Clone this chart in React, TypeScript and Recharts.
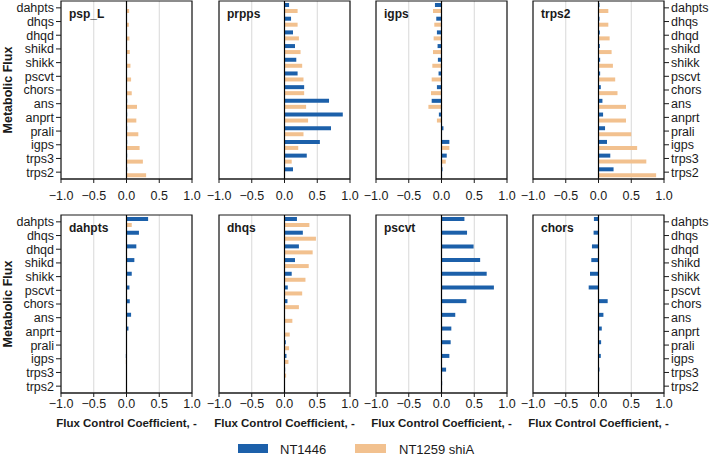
import React from 'react';
import { BarChart, Bar, XAxis, YAxis, CartesianGrid, ReferenceLine, ReferenceArea } from 'recharts';

const categories = ['dahpts', 'dhqs', 'dhqd', 'shikd', 'shikk', 'pscvt', 'chors', 'ans', 'anprt', 'prali', 'igps', 'trps3', 'trps2'];
const xTicks = [-1, -0.5, 0, 0.5, 1];
const seriesNames = ['NT1446', 'NT1259 shiA'];
const panelTitles = ['psp_L', 'prpps', 'igps', 'trps2', 'dahpts', 'dhqs', 'pscvt', 'chors'];

// NT1446 (blue)
const nt1446_psp_L = [0, 0, 0, 0, 0, 0, 0, 0.01, 0.01, 0.01, 0.01, 0.01, 0.01];
const nt1446_prpps = [0.07, 0.10, 0.13, 0.16, 0.18, 0.20, 0.30, 0.68, 0.89, 0.71, 0.54, 0.34, 0.13];
const nt1446_igps = [-0.10, -0.08, -0.07, -0.06, -0.055, -0.045, -0.07, -0.15, -0.04, 0.03, 0.12, 0.08, 0.015];
const nt1446_trps2 = [0.015, 0.015, 0.02, 0.02, 0.025, 0.025, 0.035, 0.06, 0.07, 0.10, 0.13, 0.18, 0.23];
const nt1446_dahpts = [0.33, 0.19, 0.15, 0.12, 0.08, 0.045, 0.05, 0.07, 0.03, 0, -0.01, 0, 0];
const nt1446_dhqs = [0.19, 0.28, 0.22, 0.16, 0.11, 0.05, 0.045, 0, 0, 0.02, 0.03, 0.01, 0];
const nt1446_pscvt = [0.35, 0.39, 0.49, 0.59, 0.69, 0.80, 0.38, 0.21, 0.15, 0.14, 0.12, 0.07, 0.01];
const nt1446_chors = [-0.07, -0.075, -0.10, -0.11, -0.13, -0.15, 0.14, 0.075, 0.05, 0.04, 0.035, 0.015, 0];

// NT1259 shiA (orange)
const shiA_psp_L = [0.04, 0.035, 0.045, 0.05, 0.06, 0.07, 0.08, 0.16, 0.15, 0.18, 0.20, 0.25, 0.30];
const shiA_prpps = [0.20, 0.20, 0.22, 0.245, 0.27, 0.29, 0.30, 0.33, 0.36, 0.29, 0.21, 0.11, 0];
const shiA_igps = [-0.13, -0.11, -0.12, -0.13, -0.14, -0.15, -0.16, -0.20, -0.07, 0, 0.12, 0.065, 0];
const shiA_trps2 = [0.15, 0.15, 0.17, 0.20, 0.22, 0.255, 0.29, 0.42, 0.42, 0.50, 0.59, 0.73, 0.88];
const shiA_dahpts = [0.08, 0, 0, 0, 0, 0, 0, 0, 0, 0, -0.01, 0, 0];
const shiA_dhqs = [0.38, 0.48, 0.43, 0.37, 0.32, 0.27, 0.22, 0.12, 0.08, 0.07, 0.06, 0.025, 0];
const shiA_pscvt = [0, 0, 0, 0, 0, 0, 0, 0, 0, 0, 0, 0, 0];
const shiA_chors = [0, 0, 0, 0, 0, 0, 0, 0, 0, 0, 0, 0, 0];

const blueSeries = [nt1446_psp_L, nt1446_prpps, nt1446_igps, nt1446_trps2, nt1446_dahpts, nt1446_dhqs, nt1446_pscvt, nt1446_chors];
const orangeSeries = [shiA_psp_L, shiA_prpps, shiA_igps, shiA_trps2, shiA_dahpts, shiA_dhqs, shiA_pscvt, shiA_chors];

const BLUE = '#1c60aa';
const ORANGE = '#f2c18f';
const INK = '#1a1a1a';
const FONT = "'Liberation Sans', Arial, sans-serif";

const PLOT_W = 131;
const PLOT_H = 178;
const SIDE = 16;
const colPlotLeft = [61, 218.5, 376, 533];
const RIGHT_AXIS_W = 45;

function Panel({ idx }: { idx: number }) {
  const row = idx < 4 ? 0 : 1;
  const col = idx % 4;
  const data = categories.map((c, i) => ({ name: c, a: blueSeries[idx][i], b: orangeSeries[idx][i] }));

  const marginTop = row === 0 ? 1 : 5;
  const xAxisH = row === 0 ? 26 : 40;
  const top = row === 0 ? 0 : 210;
  const height = marginTop + PLOT_H + xAxisH;

  let left: number, width: number, mLeft: number, mRight: number;
  if (col === 0) {
    left = 0; mLeft = 0; mRight = SIDE; width = 61 + PLOT_W + SIDE;
  } else if (col === 3) {
    left = colPlotLeft[3] - SIDE; mLeft = SIDE; mRight = 0; width = SIDE + PLOT_W + RIGHT_AXIS_W;
  } else {
    left = colPlotLeft[col] - SIDE; mLeft = SIDE; mRight = SIDE; width = PLOT_W + 2 * SIDE;
  }

  const tickStyle = { fill: INK, fontSize: 12.5 };

  return (
    <div style={{ position: 'absolute', left, top, width, height }}>
      <BarChart
        width={width}
        height={height}
        data={data}
        layout="vertical"
        margin={{ top: marginTop, right: mRight, bottom: 0, left: mLeft }}
        barSize={4}
        barGap={2}
      >
        <CartesianGrid horizontal={false} vertical={true} stroke="#d8d8d8" />
        <XAxis
          type="number"
          domain={[-1, 1]}
          ticks={xTicks}
          tickFormatter={(v: number) => v.toFixed(1).replace('-', '\u2212')}
          interval={0}
          height={xAxisH}
          axisLine={{ stroke: INK }}
          tickLine={{ stroke: INK }}
          tickSize={4}
          tickMargin={row === 0 ? 8 : 2}
          tick={tickStyle}
          label={row === 1 ? { value: 'Flux Control Coefficient, -', position: 'insideBottom', offset: 6, fill: INK, fontSize: 11.5, fontWeight: 'bold' } : undefined}
        />
        <YAxis
          type="category"
          dataKey="name"
          hide={col === 1 || col === 2}
          orientation={col === 3 ? 'right' : 'left'}
          width={col === 3 ? RIGHT_AXIS_W : 61}
          interval={0}
          axisLine={false}
          tickLine={{ stroke: INK }}
          tickSize={5}
          tickMargin={2}
          tick={tickStyle}
          label={col === 0 ? { value: 'Metabolic Flux', angle: -90, position: 'insideLeft', offset: 8, fill: INK, fontSize: 12.5, fontWeight: 'bold', style: { textAnchor: 'middle' } } : undefined}
        />
        <Bar dataKey="a" name={seriesNames[0]} fill={BLUE} isAnimationActive={false} />
        <Bar dataKey="b" name={seriesNames[1]} fill={ORANGE} isAnimationActive={false} />
        <ReferenceLine x={0} stroke="#000" strokeWidth={1.2} />
        <ReferenceArea
          x1={-1}
          x2={1}
          fill="none"
          stroke={INK}
          strokeWidth={1.2}
          fillOpacity={0}
          label={{ value: panelTitles[idx], position: 'insideTopLeft', offset: 8, fill: INK, fontSize: 12, fontWeight: 'bold' }}
        />
      </BarChart>
    </div>
  );
}

function Legend() {
  return (
    <svg style={{ position: 'absolute', left: 0, top: 436, width: 709, height: 20 }} width={709} height={20}>
      <rect x={238} y={8} width={30} height={9} fill={BLUE} />
      <text x={280} y={17.5} fontSize={13} fill={INK}>{seriesNames[0]}</text>
      <rect x={355} y={8} width={31} height={9} fill={ORANGE} />
      <text x={399} y={17.5} fontSize={13} fill={INK}>{seriesNames[1]}</text>
    </svg>
  );
}

export default function App() {
  return (
    <div style={{ position: 'absolute', left: 0, top: 0, width: 709, height: 456, background: '#fff', fontFamily: FONT, overflow: 'hidden' }}>
      {panelTitles.map((_, i) => (
        <Panel key={i} idx={i} />
      ))}
      <Legend />
    </div>
  );
}
